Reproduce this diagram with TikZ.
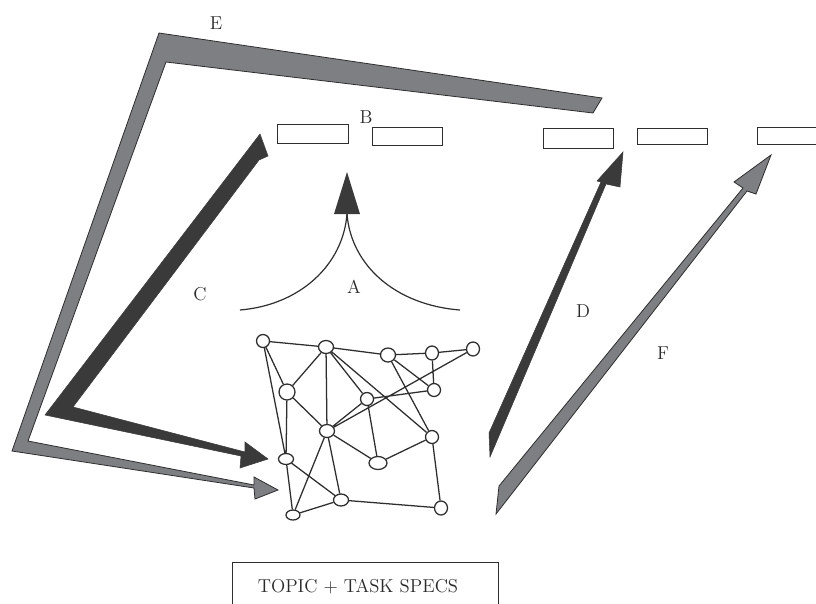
\documentclass[tikz,border=0pt]{standalone}
\usetikzlibrary{shapes.geometric}
\definecolor{inkdark}{HTML}{3A3A3A}
\definecolor{inkgray}{HTML}{7E7F83}
\definecolor{edgeink}{HTML}{2E2E2E}
\definecolor{labelink}{HTML}{2A2A2A}
\begin{document}
\begin{tikzpicture}[x=0.75pt,y=-0.75pt,
  lbl/.style={font=\fontsize{14}{16}\selectfont, text=labelink, inner sep=0pt},
  slot/.style 2 args={draw=edgeink, line width=1.1pt, fill=white, inner sep=0pt,
    anchor=north west, minimum width=#1*0.75pt, minimum height=#2*0.75pt},
  gn/.style 2 args={ellipse, draw=edgeink, fill=white, line width=0.95pt, inner sep=0pt,
    minimum width=#1*0.75pt, minimum height=#2*0.75pt},
  link/.style={draw=edgeink, line width=0.95pt},
  bandgray/.style={fill=inkgray, draw=edgeink, line width=0.6pt, line join=miter},
  banddark/.style={fill=inkdark, draw=inkdark, line width=0.4pt, line join=miter}]

\clip (0,0) rectangle (816,603);
\fill[white] (0,0) rectangle (816,603);

% ---- E : grey feedback band from the far right back into the network
\filldraw[bandgray] (602,98) -- (159,33) -- (12,451) -- (254,488) -- (255,499)
  -- (278,490) -- (254,477) -- (254,485) -- (28,441) -- (166,62) -- (593,113) -- cycle;

% ---- C : dark band from the first slot back into the network
\filldraw[banddark] (260,134) -- (268,156) -- (259,160) -- (73,407) -- (245,452)
  -- (245,442) -- (268,459) -- (240,468) -- (241,456) -- (45,415) -- cycle;

% ---- D : dark tapering arrow up to the slots
\filldraw[banddark] (489,433) -- (601,182) -- (597,181) -- (623,152) -- (620,187)
  -- (606,184) -- (490,457) -- cycle;

% ---- F : grey tapering arrow up to the last slot
\filldraw[bandgray] (499,486) -- (743,188) -- (734,182) -- (771,155) -- (756,194)
  -- (747,191) -- (496,514) -- cycle;

% ---- A : two arcs merging into an arrow
\draw[edgeink, line width=0.9pt] (240,310) .. controls (300,305) and (343,265) .. (347,214);
\draw[edgeink, line width=0.9pt] (460,310) .. controls (395,305) and (351,265) .. (347,214);
\fill[inkdark] (334,214) -- (347,172) -- (360,214) -- cycle;

% ---- B : row of output slots
\node[slot={71}{19}] (s1) at (277,124) {};
\node[slot={70}{18}] (s2) at (372,127) {};
\node[slot={70}{20}] (s3) at (543,128) {};
\node[slot={70}{16}] (s4) at (637,128) {};
\node[slot={70}{17}] (s5) at (757,127) {};

% ---- network
\node[gn={13}{13}] (n1)  at (263,341) {};
\node[gn={15}{13}] (n2)  at (326,347) {};
\node[gn={15}{14}] (n3)  at (388,355) {};
\node[gn={13}{14}] (n4)  at (432,353) {};
\node[gn={13}{14}] (n5)  at (473,349) {};
\node[gn={16}{16}] (n6)  at (287,392) {};
\node[gn={13}{13}] (n7)  at (434,390) {};
\node[gn={13}{13}] (n8)  at (367,399) {};
\node[gn={15}{13}] (n9)  at (327,431) {};
\node[gn={13}{13}] (n10) at (432,437) {};
\node[gn={15}{11}] (n11) at (286,459) {};
\node[gn={18}{13}] (n12) at (378,463) {};
\node[gn={15}{12}] (n13) at (341,500) {};
\node[gn={13}{14}] (n14) at (441,508) {};
\node[gn={14}{10}] (n15) at (293,515) {};

\path[link]
  (n1) -- (n2)  (n1) -- (n6)  (n1) -- (n11)
  (n2) -- (n3)  (n2) -- (n6)  (n2) -- (n9)  (n2) -- (n8)  (n2) -- (n10)
  (n3) -- (n4)  (n3) -- (n7)  (n3) -- (n10)
  (n4) -- (n5)  (n4) -- (n7)
  (n5) -- (n9)
  (n6) -- (n9)  (n6) -- (n11)
  (n7) -- (n8)
  (n8) -- (n9)  (n8) -- (n12)
  (n9) -- (n12) (n9) -- (n13) (n9) -- (n15)
  (n10) -- (n12) (n10) -- (n14)
  (n11) -- (n13) (n11) -- (n15)
  (n13) -- (n14) (n13) -- (n15);

% ---- input box
\node[draw=edgeink, line width=0.9pt, anchor=north west, inner sep=0pt,
  minimum width=266*0.75pt, minimum height=60*0.75pt] (specbox) at (232,562) {};
\node[lbl, anchor=base] (spectext) at (358,592) {TOPIC + TASK SPECS};

% ---- letter labels
\node[lbl] (labE) at (216,23)  {E};
\node[lbl] (labB) at (366,117) {B};
\node[lbl] (labC) at (200,294) {C};
\node[lbl] (labA) at (354,287) {A};
\node[lbl] (labD) at (583,311) {D};
\node[lbl] (labF) at (663,353) {F};
\end{tikzpicture}
\end{document}
